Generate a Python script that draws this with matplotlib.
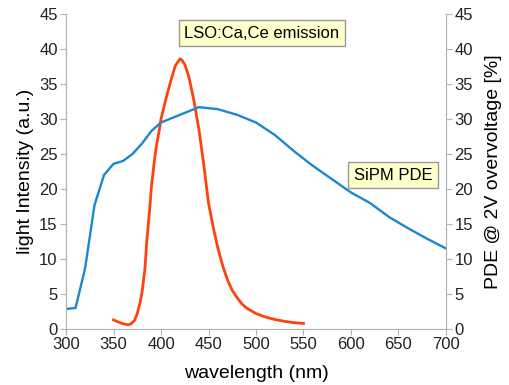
import matplotlib
matplotlib.use("Agg")
import matplotlib.pyplot as plt

plt.rcParams['font.family'] = ['Liberation Sans', 'DejaVu Sans']

# SiPM photon detection efficiency (right axis)
pde_wl = [300, 310, 320, 330, 340, 350, 360, 370, 380, 390, 400, 420, 440, 460,
          480, 500, 520, 540, 560, 580, 600, 620, 640, 660, 680, 700]
pde_val = [2.85, 3.0, 8.6, 17.7, 22.0, 23.6, 24.0, 25.0, 26.5, 28.3, 29.5, 30.6,
           31.7, 31.4, 30.6, 29.5, 27.7, 25.4, 23.3, 21.4, 19.5, 18.0, 16.0, 14.4,
           12.9, 11.5]

# LSO:Ca,Ce emission spectrum (left axis)
em_wl = [350, 355, 360, 365, 368, 372, 375, 378, 380, 383, 385, 388, 390, 393,
         395, 398, 400, 405, 410, 415, 418, 420, 422, 425, 428, 430, 435, 440,
         445, 450, 455, 460, 465, 470, 475, 480, 485, 490, 500, 510, 520, 530,
         540, 550]
em_val = [1.3, 1.0, 0.75, 0.6, 0.7, 1.2, 2.2, 3.8, 5.2, 8.5, 12.5, 17.0, 20.5,
          24.0, 26.0, 28.3, 30.0, 32.8, 35.3, 37.6, 38.2, 38.6, 38.4, 37.8, 36.6,
          35.6, 32.4, 28.4, 23.5, 18.0, 14.5, 11.5, 9.0, 7.0, 5.5, 4.5, 3.6, 3.0,
          2.2, 1.7, 1.35, 1.1, 0.9, 0.8]

blue = '#1c87d1'
red = '#ff420e'
grey = '#b3b3b3'

fig = plt.figure(figsize=(5.09, 3.85), dpi=100)
ax = fig.add_axes([0.1297, 0.1455, 0.7465, 0.8181])
ax2 = ax.twinx()

ax.plot(em_wl, em_val, color=red, lw=2)
ax2.plot(pde_wl, pde_val, color=blue, lw=1.7)

for a in (ax, ax2):
    a.set_xlim(300, 700)
    a.set_ylim(0, 45)
    a.set_yticks(range(0, 46, 5))
    for s in a.spines.values():
        s.set_color(grey)
    a.spines['top'].set_visible(False)
    a.tick_params(colors=grey, labelcolor='#222222', labelsize=12, length=4, pad=2)

ax.set_xticks(range(300, 701, 50))
ax.set_xlabel('wavelength (nm)', fontsize=14, labelpad=9)
ax.set_ylabel('light Intensity (a.u.)', fontsize=14)
ax2.set_ylabel('PDE @ 2V overvoltage [%]', fontsize=14, labelpad=9)

# text boxes placed as in the original sheet
box = dict(boxstyle='square,pad=0.35', fc='#ffffcc', ec='#999999', lw=1)
ax.annotate('LSO:Ca,Ce emission', xy=(262 / 509, 1 - 33 / 385), xycoords='figure fraction',
            fontsize=12, ha='center', va='center', bbox=box)
ax.annotate('SiPM PDE', xy=(393 / 509, 1 - 175 / 385), xycoords='figure fraction',
            fontsize=12, ha='center', va='center', bbox=box)

fig.savefig('out.png', dpi=100)
